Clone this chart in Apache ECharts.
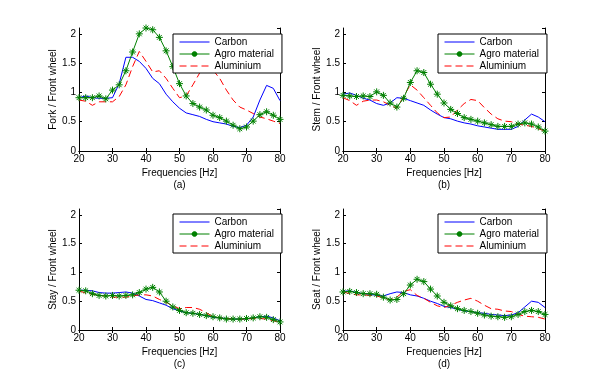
<!DOCTYPE html>
<html><head><meta charset="utf-8">
<script src="https://cdn.jsdelivr.net/npm/echarts@6/dist/echarts.min.js"></script>
<style>html,body{margin:0;padding:0;background:#fff}#c{width:600px;height:379px}</style>
</head><body><div id="c"></div>
<script>
const freq = [20,22,24,26,28,30,32,34,36,38,40,42,44,46,48,50,52,54,56,58,60,62,64,66,68,70,72,74,76,78,80];
const seriesNames = ['Carbon','Agro material','Aluminium'];
const panelLetters = ['(a)','(b)','(c)','(d)'];
const yNames = ['Fork / Front wheel','Stem / Front wheel','Stay / Front wheel','Seat / Front wheel'];
const xLabelName = 'Frequencies [Hz]';

const forkCarbon = [0.91,0.94,0.91,0.90,0.90,0.91,1.15,1.60,1.60,1.53,1.41,1.24,1.15,0.97,0.84,0.73,0.65,0.62,0.59,0.54,0.50,0.48,0.46,0.42,0.40,0.44,0.58,0.87,1.12,1.07,0.86];
const forkAgro   = [0.91,0.91,0.91,0.94,0.89,1.04,1.13,1.37,1.69,2.00,2.10,2.07,1.94,1.71,1.44,1.15,0.94,0.81,0.75,0.70,0.61,0.57,0.51,0.44,0.38,0.41,0.51,0.62,0.67,0.61,0.54];
const forkAlu    = [0.87,0.85,0.78,0.84,0.84,0.84,0.93,1.13,1.44,1.70,1.53,1.35,1.37,1.24,1.07,0.91,0.94,1.13,1.33,1.44,1.38,1.24,1.04,0.87,0.75,0.70,0.64,0.58,0.55,0.51,0.47];

const stemCarbon = [0.97,0.99,0.95,0.90,0.87,0.81,0.78,0.82,0.91,0.90,0.86,0.82,0.78,0.70,0.63,0.57,0.55,0.51,0.48,0.46,0.43,0.41,0.39,0.37,0.37,0.37,0.42,0.53,0.63,0.58,0.50];
const stemAgro   = [0.95,0.94,0.93,0.94,0.93,1.01,0.95,0.82,0.75,0.90,1.17,1.37,1.34,1.14,0.97,0.82,0.71,0.64,0.57,0.54,0.51,0.48,0.45,0.42,0.42,0.42,0.46,0.48,0.46,0.41,0.34];
const stemAlu    = [0.91,0.86,0.78,0.85,0.87,0.87,0.84,0.78,0.73,0.93,1.13,1.04,0.91,0.78,0.65,0.57,0.58,0.70,0.81,0.88,0.86,0.74,0.63,0.55,0.51,0.50,0.46,0.44,0.42,0.38,0.34];

const stayCarbon = [0.69,0.69,0.68,0.65,0.64,0.64,0.65,0.66,0.64,0.59,0.53,0.51,0.47,0.43,0.37,0.33,0.30,0.29,0.27,0.25,0.22,0.21,0.20,0.19,0.19,0.19,0.21,0.23,0.24,0.21,0.16];
const stayAgro   = [0.69,0.68,0.63,0.60,0.59,0.60,0.59,0.60,0.61,0.65,0.71,0.74,0.66,0.50,0.40,0.34,0.30,0.29,0.27,0.25,0.23,0.21,0.19,0.19,0.19,0.20,0.21,0.23,0.22,0.18,0.14];
const stayAlu    = [0.68,0.64,0.62,0.60,0.59,0.57,0.57,0.57,0.59,0.61,0.61,0.59,0.53,0.48,0.42,0.37,0.39,0.39,0.36,0.30,0.23,0.21,0.20,0.19,0.19,0.19,0.20,0.20,0.19,0.16,0.14];

const seatCarbon = [0.67,0.68,0.65,0.63,0.62,0.60,0.59,0.63,0.66,0.65,0.61,0.59,0.55,0.50,0.46,0.41,0.39,0.36,0.33,0.32,0.30,0.29,0.27,0.26,0.25,0.26,0.30,0.40,0.50,0.48,0.39];
const seatAgro   = [0.66,0.67,0.65,0.63,0.63,0.62,0.57,0.52,0.53,0.63,0.78,0.88,0.84,0.71,0.59,0.48,0.42,0.37,0.34,0.32,0.29,0.26,0.24,0.23,0.22,0.23,0.27,0.32,0.34,0.32,0.27];
const seatAlu    = [0.66,0.63,0.61,0.61,0.60,0.59,0.56,0.52,0.57,0.67,0.70,0.60,0.55,0.48,0.42,0.39,0.43,0.48,0.52,0.55,0.50,0.43,0.37,0.36,0.33,0.32,0.27,0.24,0.23,0.22,0.19];

const panels = [
  [forkCarbon, forkAgro, forkAlu],
  [stemCarbon, stemAgro, stemAlu],
  [stayCarbon, stayAgro, stayAlu],
  [seatCarbon, seatAgro, seatAlu]
];

const FONT = 'Liberation Sans, Arial, sans-serif';
const grids = [
  {left:79, top:28, width:201, height:123},
  {left:343, top:28, width:202, height:123},
  {left:79, top:209, width:201, height:121},
  {left:343, top:209, width:202, height:121}
];
const legendPos = [
  {left:173, top:34},{left:438, top:34},{left:173, top:214},{left:438, top:214}
];
const colors = ['#0000ff','#008000','#ff0000'];
const star = 'path://M5,0L5,10M0,5L10,5M1.6,1.6L8.4,8.4M1.6,8.4L8.4,1.6';
const dash = [7,4];

const xAxes = [], yAxes = [], series = [], legends = [];
grids.forEach((g, i) => {
  xAxes.push({
    gridIndex:i, type:'value', min:20, max:80, interval:10, position:'bottom',
    name: xLabelName + '\n' + panelLetters[i], nameLocation:'middle', nameGap:16,
    nameTextStyle:{fontFamily:FONT, fontSize:10, color:'#000', lineHeight:12, verticalAlign:'top'},
    axisLine:{show:true, lineStyle:{color:'#000', width:1}},
    axisTick:{show:true, inside:true, length:3, lineStyle:{color:'#000'}},
    axisLabel:{fontFamily:FONT, fontSize:10, color:'#000', margin:3},
    splitLine:{show:false}
  });
  xAxes.push({
    gridIndex:i, type:'value', min:20, max:80, interval:10, position:'top',
    axisLine:{show:true, lineStyle:{color:'#000', width:1}},
    axisTick:{show:true, inside:true, length:3, lineStyle:{color:'#000'}},
    axisLabel:{show:false}, splitLine:{show:false}
  });
  yAxes.push({
    gridIndex:i, type:'value', min:0, max:2.1, interval:0.5, position:'left',
    name: yNames[i], nameLocation:'middle', nameGap:21, nameRotate:90,
    nameTextStyle:{fontFamily:FONT, fontSize:10, color:'#000'},
    axisLine:{show:true, lineStyle:{color:'#000', width:1}},
    axisTick:{show:true, inside:true, length:3, lineStyle:{color:'#000'}},
    axisLabel:{fontFamily:FONT, fontSize:10, color:'#000', margin:3, showMaxLabel:false,
      formatter: v => (Math.abs(v-2.1)<1e-6 ? '' : String(v))},
    splitLine:{show:false}
  });
  yAxes.push({
    gridIndex:i, type:'value', min:0, max:2.1, interval:0.5, position:'right',
    axisLine:{show:true, lineStyle:{color:'#000', width:1}},
    axisTick:{show:true, inside:true, length:3, lineStyle:{color:'#000'}},
    axisLabel:{show:false}, splitLine:{show:false}
  });
  panels[i].forEach((vals, k) => {
    const s = {
      name: seriesNames[k], type:'line', xAxisIndex:2*i, yAxisIndex:2*i,
      data: freq.map((f, j) => [f, vals[j]]),
      lineStyle:{color:colors[k], width:1, type: k===2 ? dash : 'solid'},
      itemStyle:{color:colors[k]},
      animation:false, silent:true, z: k===1 ? 3 : 2
    };
    if (k === 1) {
      s.symbol = star; s.symbolSize = 7; s.showSymbol = true;
      s.itemStyle = {color:'rgba(0,0,0,0)', borderColor:colors[k], borderWidth:1};
    } else {
      s.symbol = 'none'; s.showSymbol = false;
    }
    series.push(s);
  });
  legends.push({
    left: legendPos[i].left, top: legendPos[i].top, orient:'vertical',
    data: [
      {name: seriesNames[0], itemStyle:{color:'rgba(0,0,0,0)', borderWidth:0, opacity:0}},
      {name: seriesNames[1]},
      {name: seriesNames[2], itemStyle:{color:'rgba(0,0,0,0)', borderWidth:0, opacity:0}}
    ],
    itemWidth:30, itemHeight:7, itemGap:2,
    lineStyle:{width:1},
    padding:[3,8,2,6], backgroundColor:'#fff', borderColor:'#000', borderWidth:1,
    textStyle:{fontFamily:FONT, fontSize:10, color:'#000'},
    selectedMode:false, z:10
  });
});

const chart = echarts.init(document.getElementById('c'), null, {renderer:'canvas'});
chart.setOption({
  backgroundColor:'#fff', animation:false,
  grid: grids.map(g => Object.assign({containLabel:false}, g)),
  xAxis: xAxes, yAxis: yAxes, legend: legends, series: series
});
</script></body></html>
